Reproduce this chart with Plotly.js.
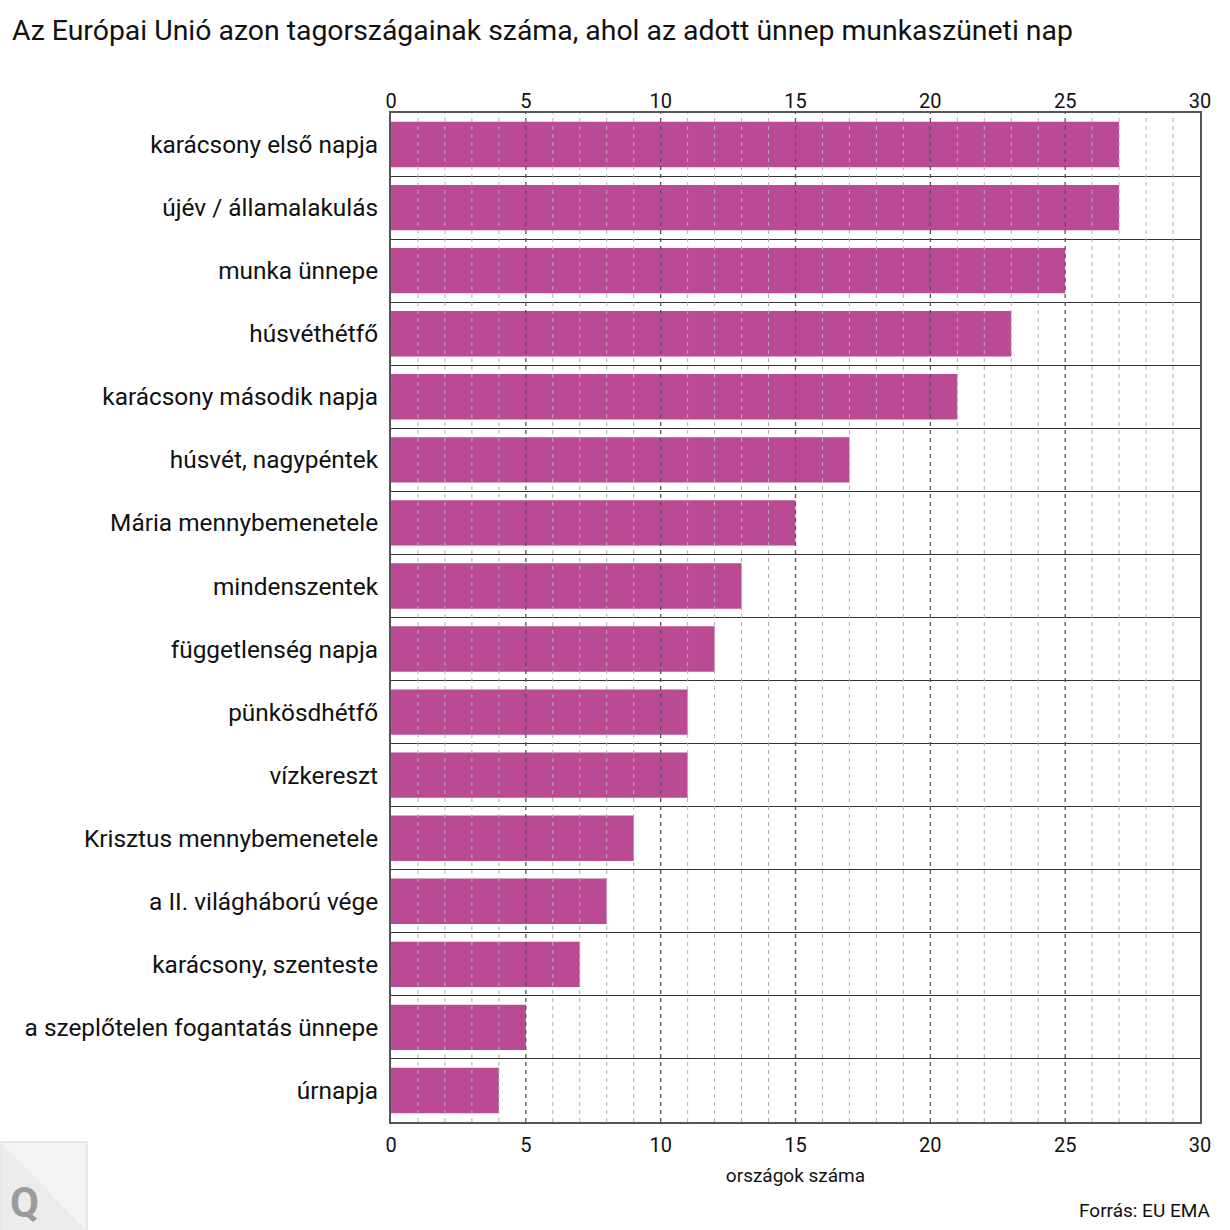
<!DOCTYPE html>
<html>
<head>
<meta charset="utf-8">
<script src="https://cdn.plot.ly/plotly-3.0.1.min.js"></script>
<style>html,body{margin:0;padding:0;background:#fff;}</style>
</head>
<body>
<div id="chart" style="width:1230px;height:1230px;"></div>
<script>
const categories = [
  "karácsony első napja",
  "újév / államalakulás",
  "munka ünnepe",
  "húsvéthétfő",
  "karácsony második napja",
  "húsvét, nagypéntek",
  "Mária mennybemenetele",
  "mindenszentek",
  "függetlenség napja",
  "pünkösdhétfő",
  "vízkereszt",
  "Krisztus mennybemenetele",
  "a II. világháború vége",
  "karácsony, szenteste",
  "a szeplőtelen fogantatás ünnepe",
  "úrnapja"
];
const countries = [27, 27, 25, 23, 21, 17, 15, 13, 12, 11, 11, 9, 8, 7, 5, 4];
const xTicks = [0, 5, 10, 15, 20, 25, 30];

const FONT = "Roboto, 'Noto Sans', sans-serif";
const W = 1230, H = 1230;
const L = 391, R = 30, T = 113, B = 108;
const pw = W - L - R, ph = H - T - B;
const px = v => (v - L) / pw;
const py = v => (H - B - v) / ph;

const shapes = [];
for (let v = 1; v < 30; v++) {
  const major = v % 5 === 0;
  shapes.push({
    type: "line", xref: "x", yref: "paper", x0: v, x1: v, y0: 0, y1: 1,
    layer: "above",
    line: { color: major ? "#555555" : "#b0b0b0", width: major ? 1.3 : 1, dash: "4px,4px" }
  });
}
// logo
shapes.push({ type: "rect", xref: "paper", yref: "paper", x0: px(0), x1: px(87), y0: py(1142), y1: py(1232),
  fillcolor: "#ececec", line: { color: "#e4e4e4", width: 1.5 }, layer: "above" });
shapes.push({ type: "path", xref: "paper", yref: "paper",
  path: `M ${px(1)} ${py(1143)} L ${px(86)} ${py(1143)} L ${px(86)} ${py(1230)} Z`,
  fillcolor: "#f4f4f4", line: { width: 0 }, layer: "above" });

const trace = {
  type: "bar",
  orientation: "h",
  y: categories,
  x: countries,
  marker: { color: "#b94a93", line: { width: 0 } },
  hoverinfo: "x+y"
};
// transparent twin so the top axis is drawn
const topAxisTrace = {
  type: "bar",
  orientation: "h",
  y: categories,
  x: countries,
  xaxis: "x2",
  marker: { color: "rgba(0,0,0,0)", line: { width: 0 } },
  hoverinfo: "skip",
  showlegend: false
};

const tickFont = { family: FONT, size: 20, color: "#111111" };

const layout = {
  width: W, height: H,
  margin: { l: L, r: R, t: T, b: B },
  paper_bgcolor: "#ffffff",
  plot_bgcolor: "#ffffff",
  font: { family: FONT, color: "#111111" },
  showlegend: false,
  bargap: 0.28,
  barmode: "overlay",
  title: {
    text: "Az Európai Unió azon tagországainak száma, ahol az adott ünnep munkaszüneti nap",
    font: { family: FONT, size: 28.4, color: "#111111" },
    xref: "container", yref: "container",
    x: 12 / W, xanchor: "left",
    y: 1 - 30 / H, yanchor: "middle"
  },
  xaxis: {
    range: [0, 30],
    tickvals: xTicks,
    ticktext: xTicks.map(String),
    showgrid: false, zeroline: false,
    showline: true, linecolor: "#555555", linewidth: 2, mirror: true,
    ticks: "", ticklabelstandoff: 4,
    tickfont: tickFont,
    title: { text: "országok száma", font: { family: FONT, size: 19, color: "#111111" }, standoff: 13 },
    fixedrange: true
  },
  xaxis2: {
    overlaying: "x", side: "top", anchor: "y",
    range: [0, 30],
    tickvals: xTicks,
    ticktext: xTicks.map(String),
    showgrid: false, zeroline: false, showline: false,
    ticks: "", ticklabelstandoff: 0,
    tickfont: tickFont,
    fixedrange: true
  },
  yaxis: {
    type: "category",
    autorange: "reversed",
    tickson: "boundaries",
    showgrid: true, gridcolor: "#333333", gridwidth: 1,
    showline: true, linecolor: "#555555", linewidth: 2, mirror: true,
    ticks: "", ticklabelstandoff: 6,
    tickfont: { family: FONT, size: 24.4, color: "#111111" },
    fixedrange: true
  },
  shapes: shapes,
  annotations: [
    { text: "Forrás: EU EMA", xref: "paper", yref: "paper", x: px(1212), y: py(1210),
      xanchor: "right", yanchor: "middle", showarrow: false,
      font: { family: FONT, size: 19, color: "#111111" } },
    { text: "<b>Q</b>", xref: "paper", yref: "paper", x: px(24), y: py(1202),
      xanchor: "center", yanchor: "middle", showarrow: false,
      font: { family: FONT, size: 42, color: "#9b9b9b" } }
  ]
};

Plotly.newPlot("chart", [trace, topAxisTrace], layout, { displayModeBar: false, staticPlot: true });
</script>
</body>
</html>
